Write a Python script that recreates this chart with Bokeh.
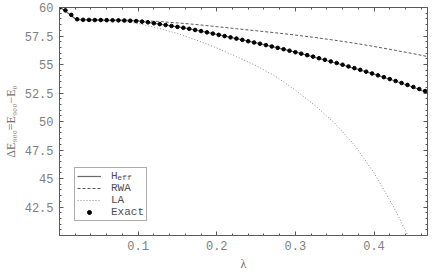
from bokeh.plotting import figure
from bokeh.models import (Range1d, FixedTicker, LinearAxis, CustomJSTickFormatter,
                          Legend, LegendItem)
from bokeh.core.properties import value
from bokeh.embed import file_html
from bokeh.resources import INLINE

# ---- data ----
x_exact = [0, 0.0075, 0.015, 0.0225, 0.03, 0.0375, 0.045, 0.0525, 0.06, 0.0675,
           0.075, 0.0825, 0.09, 0.0975, 0.105, 0.1125, 0.12, 0.1275, 0.135, 0.1425,
           0.15, 0.1575, 0.165, 0.1725, 0.18, 0.1875, 0.195, 0.2025, 0.21, 0.2175,
           0.225, 0.2325, 0.24, 0.2475, 0.255, 0.2625, 0.27, 0.2775, 0.285, 0.2925,
           0.3, 0.3075, 0.315, 0.3225, 0.33, 0.3375, 0.345, 0.3525, 0.36, 0.3675,
           0.375, 0.3825, 0.39, 0.3975, 0.405, 0.4125, 0.42, 0.4275, 0.435, 0.4425,
           0.45, 0.4575, 0.465]
y_exact = [60, 59.75, 59.35, 58.97, 58.92, 58.91, 58.9, 58.9, 58.89, 58.88,
           58.87, 58.86, 58.84, 58.81, 58.76, 58.7, 58.62, 58.54, 58.46, 58.38,
           58.3, 58.22, 58.13, 58.03, 57.93, 57.82, 57.71, 57.6, 57.49, 57.38,
           57.27, 57.16, 57.04, 56.93, 56.82, 56.7, 56.58, 56.46, 56.34, 56.21,
           56.08, 55.95, 55.82, 55.69, 55.55, 55.41, 55.27, 55.13, 54.98, 54.83,
           54.68, 54.53, 54.37, 54.21, 54.05, 53.89, 53.72, 53.55, 53.38, 53.21,
           53.03, 52.85, 52.67]

x_heff = [0, 0.005, 0.01, 0.015, 0.02, 0.025, 0.05, 0.075, 0.1, 0.125, 0.15, 0.175,
          0.2, 0.225, 0.25, 0.275, 0.3, 0.325, 0.35, 0.375, 0.4, 0.425, 0.45, 0.468]
y_heff = [60, 59.82, 59.55, 59.28, 59.02, 58.93, 58.9, 58.87, 58.82, 58.56, 58.3, 58.0,
          57.64, 57.27, 56.89, 56.5, 56.08, 55.62, 55.15, 54.66, 54.15, 53.6, 53.0, 52.5]

x_rwa = [0, 0.005, 0.01, 0.015, 0.02, 0.025, 0.05, 0.075, 0.1, 0.125, 0.15, 0.175,
         0.2, 0.225, 0.25, 0.275, 0.3, 0.325, 0.35, 0.375, 0.4, 0.425, 0.45, 0.468]
y_rwa = [60, 59.82, 59.55, 59.28, 59.02, 58.93, 58.91, 58.89, 58.86, 58.78, 58.65, 58.5,
         58.32, 58.14, 57.96, 57.78, 57.58, 57.37, 57.13, 56.87, 56.58, 56.27, 55.95, 55.7]

x_la = [0, 0.005, 0.01, 0.015, 0.02, 0.025, 0.05, 0.075, 0.1, 0.125, 0.15, 0.175,
        0.2, 0.225, 0.25, 0.275, 0.3, 0.325, 0.35, 0.375, 0.4, 0.425, 0.443]
y_la = [60, 59.82, 59.55, 59.28, 59.02, 58.93, 58.9, 58.85, 58.6, 58.2, 57.72, 57.12,
        56.45, 55.7, 54.9, 53.95, 52.75, 51.4, 49.85, 47.95, 45.5, 42.5, 40.0]

x_ticks = [0.1, 0.2, 0.3, 0.4]
x_minor = [0.02, 0.04, 0.06, 0.08, 0.12, 0.14, 0.16, 0.18, 0.22, 0.24, 0.26, 0.28,
           0.32, 0.34, 0.36, 0.38, 0.42, 0.44, 0.46]
y_ticks = [42.5, 45, 47.5, 50, 52.5, 55, 57.5, 60]
y_minor = [40.5, 41, 41.5, 42, 43, 43.5, 44, 44.5, 45.5, 46, 46.5, 47, 48, 48.5, 49, 49.5,
           50.5, 51, 51.5, 52, 53, 53.5, 54, 54.5, 55.5, 56, 56.5, 57, 58, 58.5, 59, 59.5]

labels = ["H", "RWA", "LA", "Exact"]
heff_sub = "eff"

AX = "#5a5a5a"
TICKLAB = "#808080"
TXT = "#505050"

p = figure(width=433, height=273, output_backend="svg", toolbar_location=None,
           x_range=Range1d(0, 0.468), y_range=Range1d(40, 60),
           min_border_left=56, min_border_right=6, min_border_top=7, min_border_bottom=35,
           background_fill_color="white", border_fill_color="white")
p.grid.visible = False
p.outline_line_color = AX
p.outline_line_width = 1

fmt = CustomJSTickFormatter(code="return String(tick)")
blank = CustomJSTickFormatter(code="return ''")

def style(ax, ticks, minor, show):
    ax.ticker = FixedTicker(ticks=ticks, minor_ticks=minor)
    ax.axis_line_color = AX
    ax.major_tick_line_color = AX
    ax.minor_tick_line_color = AX
    ax.major_tick_in = 4
    ax.major_tick_out = 0
    ax.minor_tick_in = 2
    ax.minor_tick_out = 0
    if show:
        ax.formatter = fmt
        ax.major_label_text_font = "Liberation Mono"
        ax.major_label_text_font_size = "12px"
        ax.major_label_text_color = TICKLAB
    else:
        ax.formatter = blank
        ax.major_label_text_font_size = "0px"
        ax.major_label_standoff = 0

style(p.xaxis[0], x_ticks, x_minor, True)
style(p.yaxis[0], y_ticks, y_minor, True)
p.xaxis[0].major_label_standoff = 5
p.yaxis[0].major_label_standoff = 6
p.xaxis[0].axis_label = "λ"
p.yaxis[0].axis_label = "ΔE₉₀₀=E₉₀₀−E₀"
for ax in (p.xaxis[0], p.yaxis[0]):
    ax.axis_label_text_font = "Liberation Serif"
    ax.axis_label_text_font_style = "normal"
    ax.axis_label_text_font_size = "12px"
    ax.axis_label_text_color = "#707070"
p.xaxis[0].axis_label_standoff = 4
p.yaxis[0].axis_label_standoff = 4

top = LinearAxis()
right = LinearAxis()
style(top, x_ticks, x_minor, False)
style(right, y_ticks, y_minor, False)
p.add_layout(top, "above")
p.add_layout(right, "right")

r_la = p.line(x_la, y_la, line_color="#8c8c8c", line_width=1, line_dash="1 2")
r_rwa = p.line(x_rwa, y_rwa, line_color="#5a5a5a", line_width=1, line_dash="3 2")
r_heff = p.line(x_heff, y_heff, line_color="#6a6a6a", line_width=1.2)
r_ex = p.scatter(x_exact, y_exact, size=3.6, marker="circle", fill_color="black",
                 line_color="black")

# subscript of H_eff in the legend (drawn beneath a transparent legend box)
p.text(x=[0.0735], y=[45.12], text=[heff_sub], text_font=value("Liberation Mono"),
       text_font_size="8px", text_color=TXT, text_baseline="alphabetic")

legend = Legend(items=[LegendItem(label=labels[0], renderers=[r_heff]),
                       LegendItem(label=labels[1], renderers=[r_rwa]),
                       LegendItem(label=labels[2], renderers=[r_la]),
                       LegendItem(label=labels[3], renderers=[r_ex])],
                location=(15, 14), orientation="vertical",
                border_line_color=AX, border_line_width=1,
                background_fill_alpha=0,
                label_text_font="Liberation Mono", label_text_font_size="11px",
                label_text_color=TXT,
                glyph_width=24, glyph_height=10, label_height=10,
                spacing=0, padding=2, margin=0, label_standoff=10)
p.add_layout(legend)

open("out.html", "w").write(file_html(p, INLINE))
